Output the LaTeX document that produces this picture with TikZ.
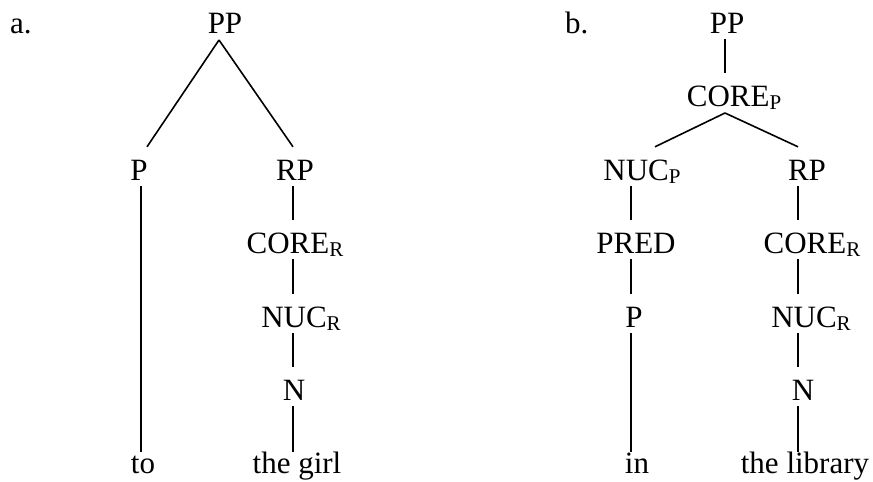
\documentclass[tikz,border=0pt]{standalone}
\usepackage{fontspec}
\setmainfont{Liberation Serif}
\usetikzlibrary{calc}
\newcommand{\lsub}[1]{\raisebox{-3pt}{\fontsize{21}{21}\selectfont #1}}

\begin{document}
\begin{tikzpicture}[x=1pt,y=-1pt,
  lbl/.style={anchor=base,inner sep=0pt,text height=20pt,text depth=0pt,font=\fontsize{31}{37}\selectfont},
  branch/.style={line width=1.6pt,shorten <=6pt,shorten >=13pt},
  leaf/.style={line width=1.6pt,shorten <=6pt,shorten >=1pt},
  slant/.style={line width=1.6pt}]
  \useasboundingbox (0,0) rectangle (873,482);

  % columns
  \coordinate (aT) at (219,0);
  \coordinate (aL) at (141,0);
  \coordinate (aR) at (293,0);
  \coordinate (bT) at (725,0);
  \coordinate (bL) at (631,0);
  \coordinate (bR) at (798,0);

  % tree a
  \node[lbl,anchor=base west] (la) at (10,33) {a.};
  \node[lbl] (ppa) at (225,33) {PP};
  \node[lbl] (pa) at (139,180) {P};
  \node[lbl] (rpa) at (295,180) {RP};
  \node[lbl] (corea) at (295,253) {CORE\lsub{R}};
  \node[lbl] (nuca) at (301,327) {NUC\lsub{R}};
  \node[lbl] (na) at (294,400) {N};
  \node[lbl] (toa) at (143,473) {to};
  \node[lbl] (girla) at (297,473) {the girl};

  \draw[slant] ($(ppa.base -| aT)+(0,7)$) -- ($(pa.north)+(8,-13)$);
  \draw[slant] ($(ppa.base -| aT)+(0,7)$) -- ($(rpa.north -| aR)+(0,-13)$);
  \draw[leaf] (pa.south -| aL) -- (toa.north -| aL);
  \draw[branch] (rpa.south -| aR) -- (corea.north -| aR);
  \draw[branch] (corea.south -| aR) -- (nuca.north -| aR);
  \draw[branch] (nuca.south -| aR) -- (na.north -| aR);
  \draw[leaf] (na.south -| aR) -- (girla.north -| aR);

  % tree b
  \node[lbl,anchor=base west] (lb) at (565,33) {b.};
  \node[lbl] (ppb) at (727,33) {PP};
  \node[lbl] (coreb) at (734,106) {CORE\lsub{P}};
  \node[lbl] (nucb) at (642,180) {NUC\lsub{P}};
  \node[lbl] (rpb) at (807,180) {RP};
  \node[lbl] (predb) at (636,253) {PRED};
  \node[lbl] (pb) at (634,327) {P};
  \node[lbl] (inb) at (637,473) {in};
  \node[lbl] (corerb) at (812,253) {CORE\lsub{R}};
  \node[lbl] (nucrb) at (811,327) {NUC\lsub{R}};
  \node[lbl] (nb) at (803,400) {N};
  \node[lbl] (libb) at (805,473) {the library};

  \draw[branch] (ppb.south -| bT) -- (coreb.north -| bT);
  \draw[slant] ($(coreb.base -| bT)+(0,7)$) -- ($(nucb.north)+(13,-13)$);
  \draw[slant] ($(coreb.base -| bT)+(0,7)$) -- ($(rpb.north -| bR)+(0,-13)$);
  \draw[branch] (nucb.south -| bL) -- (predb.north -| bL);
  \draw[branch] (predb.south -| bL) -- (pb.north -| bL);
  \draw[leaf] (pb.south -| bL) -- (inb.north -| bL);
  \draw[branch] (rpb.south -| bR) -- (corerb.north -| bR);
  \draw[branch] (corerb.south -| bR) -- (nucrb.north -| bR);
  \draw[branch] (nucrb.south -| bR) -- (nb.north -| bR);
  \draw[leaf] (nb.south -| bR) -- (libb.north -| bR);
\end{tikzpicture}
\end{document}
